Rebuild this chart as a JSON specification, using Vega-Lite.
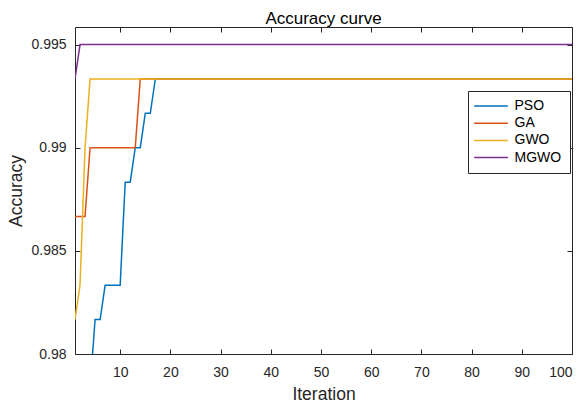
{
  "$schema": "https://vega.github.io/schema/vega-lite/v6.json",
  "autosize": {"type": "none"},
  "width": 497,
  "height": 327,
  "padding": {"left": 75, "top": 27, "right": 13, "bottom": 50},
  "background": "white",
  "config": {
    "font": "Liberation Sans",
    "view": {"stroke": "#262626", "strokeWidth": 1},
    "axis": {
      "grid": false,
      "domain": false,
      "tickColor": "#262626",
      "tickSize": -5,
      "tickWidth": 1,
      "labelFont": "Liberation Sans",
      "labelFontSize": 14,
      "labelColor": "#262626",
      "titleFont": "Liberation Sans",
      "titleFontSize": 17.5,
      "titleFontWeight": "normal",
      "titleColor": "#262626"
    }
  },
  "title": {
    "text": "Accuracy curve",
    "font": "Liberation Sans",
    "fontSize": 17,
    "fontWeight": "normal",
    "color": "#000000",
    "anchor": "middle",
    "baseline": "alphabetic",
    "offset": 4,
    "dy": 18
  },
  "data": {
    "values": [
      {"i": 1, "PSO": 0.97833, "GA": 0.98667, "GWO": 0.98167, "MGWO": 0.99333},
      {"i": 2, "PSO": 0.97833, "GA": 0.98667, "GWO": 0.98333, "MGWO": 0.995},
      {"i": 3, "PSO": 0.97833, "GA": 0.98667, "GWO": 0.99, "MGWO": 0.995},
      {"i": 4, "PSO": 0.97833, "GA": 0.99, "GWO": 0.99333, "MGWO": 0.995},
      {"i": 5, "PSO": 0.98167, "GA": 0.99, "GWO": 0.99333, "MGWO": 0.995},
      {"i": 6, "PSO": 0.98167, "GA": 0.99, "GWO": 0.99333, "MGWO": 0.995},
      {"i": 7, "PSO": 0.98333, "GA": 0.99, "GWO": 0.99333, "MGWO": 0.995},
      {"i": 8, "PSO": 0.98333, "GA": 0.99, "GWO": 0.99333, "MGWO": 0.995},
      {"i": 9, "PSO": 0.98333, "GA": 0.99, "GWO": 0.99333, "MGWO": 0.995},
      {"i": 10, "PSO": 0.98333, "GA": 0.99, "GWO": 0.99333, "MGWO": 0.995},
      {"i": 11, "PSO": 0.98833, "GA": 0.99, "GWO": 0.99333, "MGWO": 0.995},
      {"i": 12, "PSO": 0.98833, "GA": 0.99, "GWO": 0.99333, "MGWO": 0.995},
      {"i": 13, "PSO": 0.99, "GA": 0.99, "GWO": 0.99333, "MGWO": 0.995},
      {"i": 14, "PSO": 0.99, "GA": 0.99333, "GWO": 0.99333, "MGWO": 0.995},
      {"i": 15, "PSO": 0.99167, "GA": 0.99333, "GWO": 0.99333, "MGWO": 0.995},
      {"i": 16, "PSO": 0.99167, "GA": 0.99333, "GWO": 0.99333, "MGWO": 0.995},
      {"i": 17, "PSO": 0.99333, "GA": 0.99333, "GWO": 0.99333, "MGWO": 0.995},
      {"i": 18, "PSO": 0.99333, "GA": 0.99333, "GWO": 0.99333, "MGWO": 0.995},
      {"i": 19, "PSO": 0.99333, "GA": 0.99333, "GWO": 0.99333, "MGWO": 0.995},
      {"i": 20, "PSO": 0.99333, "GA": 0.99333, "GWO": 0.99333, "MGWO": 0.995},
      {"i": 21, "PSO": 0.99333, "GA": 0.99333, "GWO": 0.99333, "MGWO": 0.995},
      {"i": 22, "PSO": 0.99333, "GA": 0.99333, "GWO": 0.99333, "MGWO": 0.995},
      {"i": 23, "PSO": 0.99333, "GA": 0.99333, "GWO": 0.99333, "MGWO": 0.995},
      {"i": 24, "PSO": 0.99333, "GA": 0.99333, "GWO": 0.99333, "MGWO": 0.995},
      {"i": 25, "PSO": 0.99333, "GA": 0.99333, "GWO": 0.99333, "MGWO": 0.995},
      {"i": 26, "PSO": 0.99333, "GA": 0.99333, "GWO": 0.99333, "MGWO": 0.995},
      {"i": 27, "PSO": 0.99333, "GA": 0.99333, "GWO": 0.99333, "MGWO": 0.995},
      {"i": 28, "PSO": 0.99333, "GA": 0.99333, "GWO": 0.99333, "MGWO": 0.995},
      {"i": 29, "PSO": 0.99333, "GA": 0.99333, "GWO": 0.99333, "MGWO": 0.995},
      {"i": 30, "PSO": 0.99333, "GA": 0.99333, "GWO": 0.99333, "MGWO": 0.995},
      {"i": 31, "PSO": 0.99333, "GA": 0.99333, "GWO": 0.99333, "MGWO": 0.995},
      {"i": 32, "PSO": 0.99333, "GA": 0.99333, "GWO": 0.99333, "MGWO": 0.995},
      {"i": 33, "PSO": 0.99333, "GA": 0.99333, "GWO": 0.99333, "MGWO": 0.995},
      {"i": 34, "PSO": 0.99333, "GA": 0.99333, "GWO": 0.99333, "MGWO": 0.995},
      {"i": 35, "PSO": 0.99333, "GA": 0.99333, "GWO": 0.99333, "MGWO": 0.995},
      {"i": 36, "PSO": 0.99333, "GA": 0.99333, "GWO": 0.99333, "MGWO": 0.995},
      {"i": 37, "PSO": 0.99333, "GA": 0.99333, "GWO": 0.99333, "MGWO": 0.995},
      {"i": 38, "PSO": 0.99333, "GA": 0.99333, "GWO": 0.99333, "MGWO": 0.995},
      {"i": 39, "PSO": 0.99333, "GA": 0.99333, "GWO": 0.99333, "MGWO": 0.995},
      {"i": 40, "PSO": 0.99333, "GA": 0.99333, "GWO": 0.99333, "MGWO": 0.995},
      {"i": 41, "PSO": 0.99333, "GA": 0.99333, "GWO": 0.99333, "MGWO": 0.995},
      {"i": 42, "PSO": 0.99333, "GA": 0.99333, "GWO": 0.99333, "MGWO": 0.995},
      {"i": 43, "PSO": 0.99333, "GA": 0.99333, "GWO": 0.99333, "MGWO": 0.995},
      {"i": 44, "PSO": 0.99333, "GA": 0.99333, "GWO": 0.99333, "MGWO": 0.995},
      {"i": 45, "PSO": 0.99333, "GA": 0.99333, "GWO": 0.99333, "MGWO": 0.995},
      {"i": 46, "PSO": 0.99333, "GA": 0.99333, "GWO": 0.99333, "MGWO": 0.995},
      {"i": 47, "PSO": 0.99333, "GA": 0.99333, "GWO": 0.99333, "MGWO": 0.995},
      {"i": 48, "PSO": 0.99333, "GA": 0.99333, "GWO": 0.99333, "MGWO": 0.995},
      {"i": 49, "PSO": 0.99333, "GA": 0.99333, "GWO": 0.99333, "MGWO": 0.995},
      {"i": 50, "PSO": 0.99333, "GA": 0.99333, "GWO": 0.99333, "MGWO": 0.995},
      {"i": 51, "PSO": 0.99333, "GA": 0.99333, "GWO": 0.99333, "MGWO": 0.995},
      {"i": 52, "PSO": 0.99333, "GA": 0.99333, "GWO": 0.99333, "MGWO": 0.995},
      {"i": 53, "PSO": 0.99333, "GA": 0.99333, "GWO": 0.99333, "MGWO": 0.995},
      {"i": 54, "PSO": 0.99333, "GA": 0.99333, "GWO": 0.99333, "MGWO": 0.995},
      {"i": 55, "PSO": 0.99333, "GA": 0.99333, "GWO": 0.99333, "MGWO": 0.995},
      {"i": 56, "PSO": 0.99333, "GA": 0.99333, "GWO": 0.99333, "MGWO": 0.995},
      {"i": 57, "PSO": 0.99333, "GA": 0.99333, "GWO": 0.99333, "MGWO": 0.995},
      {"i": 58, "PSO": 0.99333, "GA": 0.99333, "GWO": 0.99333, "MGWO": 0.995},
      {"i": 59, "PSO": 0.99333, "GA": 0.99333, "GWO": 0.99333, "MGWO": 0.995},
      {"i": 60, "PSO": 0.99333, "GA": 0.99333, "GWO": 0.99333, "MGWO": 0.995},
      {"i": 61, "PSO": 0.99333, "GA": 0.99333, "GWO": 0.99333, "MGWO": 0.995},
      {"i": 62, "PSO": 0.99333, "GA": 0.99333, "GWO": 0.99333, "MGWO": 0.995},
      {"i": 63, "PSO": 0.99333, "GA": 0.99333, "GWO": 0.99333, "MGWO": 0.995},
      {"i": 64, "PSO": 0.99333, "GA": 0.99333, "GWO": 0.99333, "MGWO": 0.995},
      {"i": 65, "PSO": 0.99333, "GA": 0.99333, "GWO": 0.99333, "MGWO": 0.995},
      {"i": 66, "PSO": 0.99333, "GA": 0.99333, "GWO": 0.99333, "MGWO": 0.995},
      {"i": 67, "PSO": 0.99333, "GA": 0.99333, "GWO": 0.99333, "MGWO": 0.995},
      {"i": 68, "PSO": 0.99333, "GA": 0.99333, "GWO": 0.99333, "MGWO": 0.995},
      {"i": 69, "PSO": 0.99333, "GA": 0.99333, "GWO": 0.99333, "MGWO": 0.995},
      {"i": 70, "PSO": 0.99333, "GA": 0.99333, "GWO": 0.99333, "MGWO": 0.995},
      {"i": 71, "PSO": 0.99333, "GA": 0.99333, "GWO": 0.99333, "MGWO": 0.995},
      {"i": 72, "PSO": 0.99333, "GA": 0.99333, "GWO": 0.99333, "MGWO": 0.995},
      {"i": 73, "PSO": 0.99333, "GA": 0.99333, "GWO": 0.99333, "MGWO": 0.995},
      {"i": 74, "PSO": 0.99333, "GA": 0.99333, "GWO": 0.99333, "MGWO": 0.995},
      {"i": 75, "PSO": 0.99333, "GA": 0.99333, "GWO": 0.99333, "MGWO": 0.995},
      {"i": 76, "PSO": 0.99333, "GA": 0.99333, "GWO": 0.99333, "MGWO": 0.995},
      {"i": 77, "PSO": 0.99333, "GA": 0.99333, "GWO": 0.99333, "MGWO": 0.995},
      {"i": 78, "PSO": 0.99333, "GA": 0.99333, "GWO": 0.99333, "MGWO": 0.995},
      {"i": 79, "PSO": 0.99333, "GA": 0.99333, "GWO": 0.99333, "MGWO": 0.995},
      {"i": 80, "PSO": 0.99333, "GA": 0.99333, "GWO": 0.99333, "MGWO": 0.995},
      {"i": 81, "PSO": 0.99333, "GA": 0.99333, "GWO": 0.99333, "MGWO": 0.995},
      {"i": 82, "PSO": 0.99333, "GA": 0.99333, "GWO": 0.99333, "MGWO": 0.995},
      {"i": 83, "PSO": 0.99333, "GA": 0.99333, "GWO": 0.99333, "MGWO": 0.995},
      {"i": 84, "PSO": 0.99333, "GA": 0.99333, "GWO": 0.99333, "MGWO": 0.995},
      {"i": 85, "PSO": 0.99333, "GA": 0.99333, "GWO": 0.99333, "MGWO": 0.995},
      {"i": 86, "PSO": 0.99333, "GA": 0.99333, "GWO": 0.99333, "MGWO": 0.995},
      {"i": 87, "PSO": 0.99333, "GA": 0.99333, "GWO": 0.99333, "MGWO": 0.995},
      {"i": 88, "PSO": 0.99333, "GA": 0.99333, "GWO": 0.99333, "MGWO": 0.995},
      {"i": 89, "PSO": 0.99333, "GA": 0.99333, "GWO": 0.99333, "MGWO": 0.995},
      {"i": 90, "PSO": 0.99333, "GA": 0.99333, "GWO": 0.99333, "MGWO": 0.995},
      {"i": 91, "PSO": 0.99333, "GA": 0.99333, "GWO": 0.99333, "MGWO": 0.995},
      {"i": 92, "PSO": 0.99333, "GA": 0.99333, "GWO": 0.99333, "MGWO": 0.995},
      {"i": 93, "PSO": 0.99333, "GA": 0.99333, "GWO": 0.99333, "MGWO": 0.995},
      {"i": 94, "PSO": 0.99333, "GA": 0.99333, "GWO": 0.99333, "MGWO": 0.995},
      {"i": 95, "PSO": 0.99333, "GA": 0.99333, "GWO": 0.99333, "MGWO": 0.995},
      {"i": 96, "PSO": 0.99333, "GA": 0.99333, "GWO": 0.99333, "MGWO": 0.995},
      {"i": 97, "PSO": 0.99333, "GA": 0.99333, "GWO": 0.99333, "MGWO": 0.995},
      {"i": 98, "PSO": 0.99333, "GA": 0.99333, "GWO": 0.99333, "MGWO": 0.995},
      {"i": 99, "PSO": 0.99333, "GA": 0.99333, "GWO": 0.99333, "MGWO": 0.995},
      {"i": 100, "PSO": 0.99333, "GA": 0.99333, "GWO": 0.99333, "MGWO": 0.995}
    ]
  },
  "transform": [
    {"fold": ["PSO", "GA", "GWO", "MGWO"], "as": ["algo", "acc"]}
  ],
  "layer": [
    {
      "mark": {"type": "line", "strokeWidth": 1.5, "clip": true},
      "encoding": {
        "x": {
          "field": "i", "type": "quantitative",
          "scale": {"domain": [1, 100], "nice": false, "zero": false},
          "axis": {"orient": "bottom", "values": [10, 20, 30, 40, 50, 60, 70, 80, 90, 100], "title": "Iteration", "labelPadding": 16, "titlePadding": 6}
        },
        "y": {
          "field": "acc", "type": "quantitative",
          "scale": {"domain": [0.98, 0.99585], "nice": false, "zero": false},
          "axis": {"orient": "left", "values": [0.98, 0.985, 0.99, 0.995], "format": ".3~f", "title": "Accuracy", "labelPadding": 14, "titleX": -50}
        },
        "color": {
          "field": "algo", "type": "nominal",
          "scale": {"domain": ["PSO", "GA", "GWO", "MGWO"], "range": ["#0072BD", "#D95319", "#EDB120", "#7E2F8E"]},
          "legend": {
            "title": null,
            "orient": "none",
            "legendX": 393,
            "legendY": 64,
            "direction": "vertical",
            "fillColor": "white",
            "strokeColor": "#262626",
            "padding": 8,
            "rowPadding": 3.2,
            "symbolType": "M-3,0H3",
            "symbolSize": 126,
            "symbolOffset": 8,
            "symbolStrokeWidth": 1.5,
            "labelOffset": 16.5,
            "labelFont": "Liberation Sans",
            "labelFontSize": 14,
            "labelColor": "#000000"
          }
        }
      }
    },
    {
      "mark": {"type": "line", "opacity": 0},
      "encoding": {
        "x": {
          "field": "i", "type": "quantitative",
          "axis": {"orient": "top", "values": [10, 20, 30, 40, 50, 60, 70, 80, 90, 100], "labels": false, "title": null}
        },
        "y": {
          "field": "acc", "type": "quantitative",
          "axis": {"orient": "right", "values": [0.98, 0.985, 0.99, 0.995], "labels": false, "title": null}
        }
      }
    }
  ],
  "resolve": {"axis": {"x": "independent", "y": "independent"}}
}
